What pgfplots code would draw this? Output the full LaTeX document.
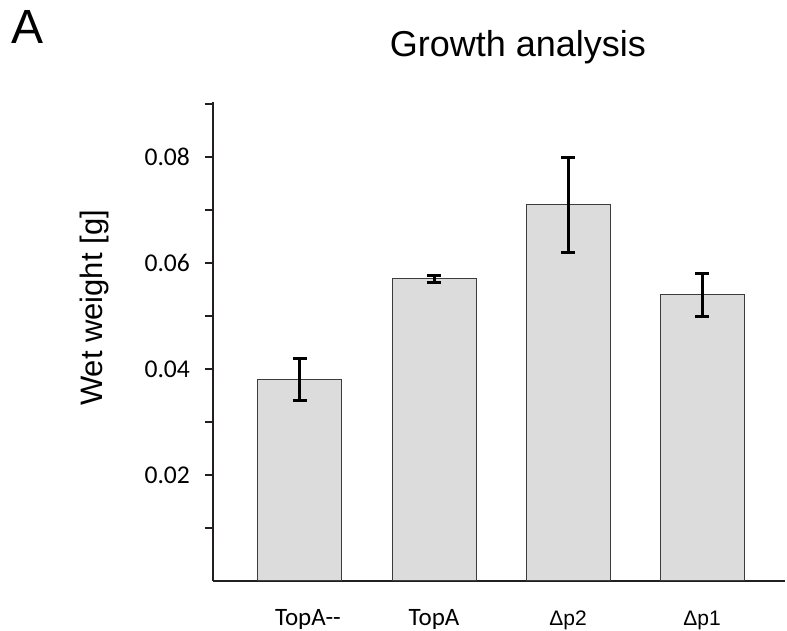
\documentclass[border=0pt]{standalone}
\usepackage{fontspec}
\setmainfont{Liberation Sans}
\newfontfamily\carlito{Carlito}
\usepackage{pgfplots}
\pgfplotsset{compat=1.18}
\definecolor{barfill}{HTML}{DCDCDC}
\definecolor{baredge}{HTML}{3C3C3C}
\definecolor{axisblack}{HTML}{231F20}
\newcommand{\calfont}{\fontsize{12.5}{14}\carlito}
\begin{document}
\begin{tikzpicture}
\begin{axis}[
    scale only axis,
    width=286pt, height=239.5pt,
    clip=false,
    xmin=-0.649, xmax=3.619,
    ymin=0, ymax=0.0904,
    axis lines=left,
    axis line style={-, line width=1pt, axisblack},
    xtick=data,
    xticklabels={{\calfont\hspace*{8pt}TopA-{}-}, {\calfont TopA}, {Δp2}, {Δp1}},
    x tick style={draw=none},
    xticklabel style={font=\fontsize{10.5}{12}\selectfont, anchor=base, yshift=-18.5pt},
    scaled y ticks=false,
    ytick={0.02,0.04,0.06,0.08},
    yticklabels={0.02,0.04,0.06,0.08},
    minor ytick={0.01,0.03,0.05,0.07,0.09},
    tick align=outside,
    major tick length=4pt, minor tick length=4pt,
    y tick style={line width=1pt, axisblack},
    minor y tick style={line width=1pt, axisblack},
    yticklabel style={font=\fontsize{12.8}{14}\carlito, xshift=-4pt},
]
\addplot[ybar, bar width=42pt, fill=barfill, draw=baredge, line width=0.5pt,
    error bars/.cd, y dir=both, y explicit,
    error bar style={line width=1.5pt, black},
    error mark options={rotate=90, mark size=3.5pt, line width=1.5pt, black}]
coordinates {
    (0,0.038) +- (0,0.004)
    (1,0.057) +- (0,0.0007)
    (2,0.071) +- (0,0.009)
    (3,0.054) +- (0,0.004)
};
\coordinate (O) at (rel axis cs:0,0);
\coordinate (YL) at (rel axis cs:0,0.57);
\node[anchor=base, inner sep=0, font=\fontsize{18}{21}\selectfont] at (rel axis cs:0.533,1) [yshift=22.5pt] {Growth analysis};
\node[anchor=base west, inner sep=0, font=\fontsize{24}{28}\selectfont] at (rel axis cs:0,1) [xshift=-101pt, yshift=29pt] {A};
\end{axis}
\node[anchor=base, rotate=90, inner sep=0, font=\fontsize{15.5}{18}\selectfont] at ([xshift=-55pt]YL) {Wet weight [g]};
\pgfresetboundingbox
\path[use as bounding box] ([xshift=-106.5pt,yshift=-25pt]O) rectangle ([xshift=287pt,yshift=290.5pt]O);
\end{tikzpicture}
\end{document}
